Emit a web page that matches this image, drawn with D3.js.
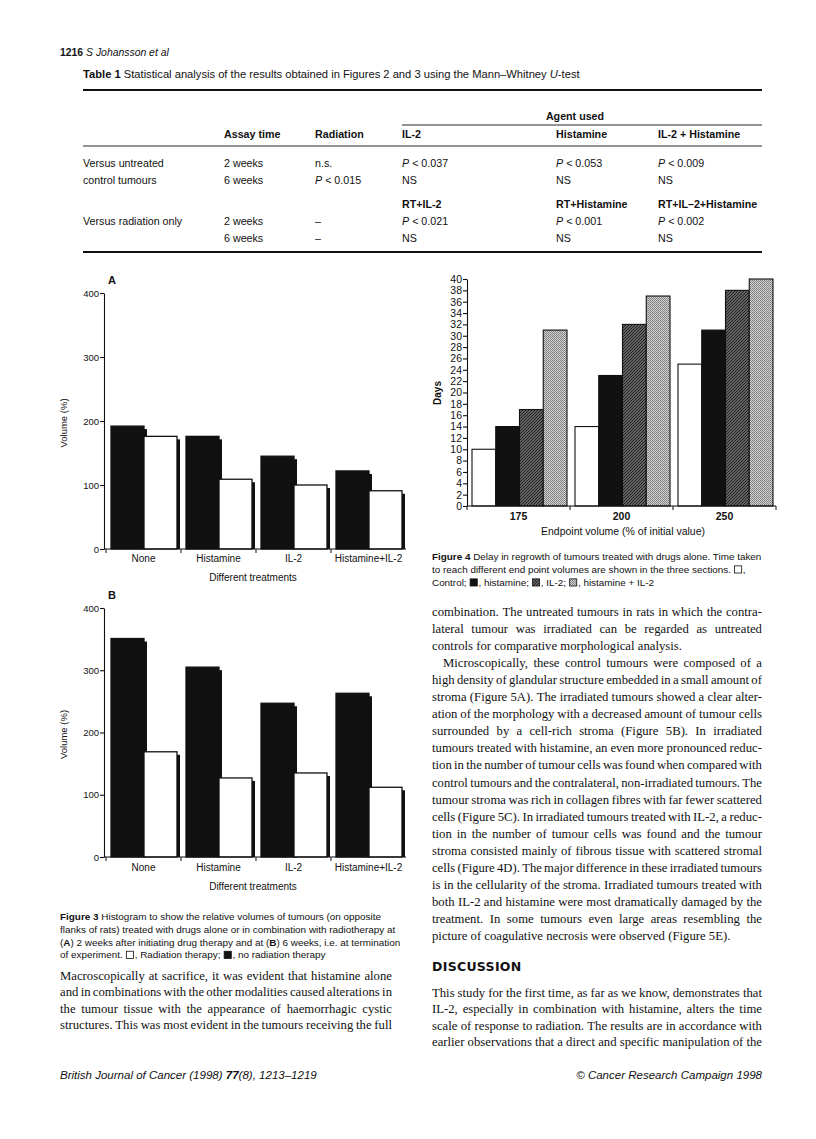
<!DOCTYPE html>
<html><head><meta charset="utf-8">
<script src="https://cdn.jsdelivr.net/npm/d3@7"></script>
<style>html,body{margin:0;padding:0;background:#fff;}svg{display:block;}</style>
</head><body>
<script>
// ---------------- DATA ----------------
const FIG3_CATEGORIES = ["None", "Histamine", "IL-2", "Histamine+IL-2"];
const FIG3_SERIES = ["No radiation therapy", "Radiation therapy"];
const FIG3A_NO_RT = [192, 176, 145, 122];
const FIG3A_RT = [176, 109, 100, 91];
const FIG3B_NO_RT = [351, 305, 247, 263];
const FIG3B_RT = [169, 127, 135, 112];
const FIG3_YTICKS = [0, 100, 200, 300, 400];

const FIG4_CATEGORIES = ["175", "200", "250"];
const FIG4_SERIES = ["Control", "Histamine", "IL-2", "Histamine + IL-2"];
const FIG4_CONTROL = [10, 14, 25];
const FIG4_HISTAMINE = [14, 23, 31];
const FIG4_IL2 = [17, 32, 38];
const FIG4_BOTH = [31, 37, 40];
const FIG4_YTICKS = [0, 2, 4, 6, 8, 10, 12, 14, 16, 18, 20, 22, 24, 26, 28, 30, 32, 34, 36, 38, 40];

const TABLE_COLS = ["", "Assay time", "Radiation", "IL-2", "Histamine", "IL-2 + Histamine"];
const TABLE_ROWS_1 = [
  ["Versus untreated", "2 weeks", "n.s.", "P < 0.037", "P < 0.053", "P < 0.009"],
  ["control tumours", "6 weeks", "P < 0.015", "NS", "NS", "NS"]
];
const TABLE_SUBHEAD_2 = ["", "", "", "RT+IL-2", "RT+Histamine", "RT+IL\u20132+Histamine"];
const TABLE_ROWS_2 = [
  ["Versus radiation only", "2 weeks", "\u2013", "P < 0.021", "P < 0.001", "P < 0.002"],
  ["", "6 weeks", "\u2013", "NS", "NS", "NS"]
];

// ---------------- SETUP ----------------
const SANS = "'Liberation Sans', Arial, Helvetica, sans-serif";
const SERIF = "'Liberation Serif', 'Times New Roman', Times, serif";
const HEAVY = "'DejaVu Sans', 'Liberation Sans', sans-serif";
const INK = "#111";
const svg = d3.select("body").append("svg").attr("width", 816).attr("height", 1139);
svg.append("rect").attr("width", 816).attr("height", 1139).attr("fill", "#fff");

const defs = svg.append("defs");
const pIL2 = defs.append("pattern").attr("id", "patIL2").attr("patternUnits", "userSpaceOnUse").attr("width", 3).attr("height", 3);
pIL2.append("rect").attr("width", 3).attr("height", 3).attr("fill", "#626262");
pIL2.append("path").attr("d", "M0,3L3,0M-1,1L1,-1M2,4L4,2").attr("stroke", "#222").attr("stroke-width", 1);
const pBoth = defs.append("pattern").attr("id", "patBoth").attr("patternUnits", "userSpaceOnUse").attr("width", 2).attr("height", 2);
pBoth.append("rect").attr("width", 2).attr("height", 2).attr("fill", "#d0d0d0");
pBoth.append("rect").attr("width", 1).attr("height", 1).attr("fill", "#7c7c7c");
pBoth.append("rect").attr("x", 1).attr("y", 1).attr("width", 1).attr("height", 1).attr("fill", "#8c8c8c");
const FIG4_FILLS = ["#fff", INK, "url(#patIL2)", "url(#patBoth)"];

const meas = svg.append("text").attr("x", 10).attr("y", 10).attr("fill", "none").attr("visibility", "hidden");
function tw(t, o) {
  meas.attr("font-size", o.size).attr("font-family", o.fam)
    .attr("font-weight", o.b ? "bold" : "normal").attr("font-style", o.i ? "italic" : "normal").text(t);
  return meas.node().getComputedTextLength();
}
function segW(t, o) { if (!t) return 0; return tw("x" + t + "x", o) - tw("xx", o); }

function richWidth(segs, base) {
  let w = 0;
  segs.forEach(s => { if (s.sq) w += base.size * 0.72 + 2; else w += segW(s.t, Object.assign({}, base, s)); });
  return w;
}
function richLine(x, y, segs, base, anchorEnd) {
  if (anchorEnd) x = x - richWidth(segs, base);
  const t = svg.append("text").attr("y", y).attr("font-size", base.size).attr("font-family", base.fam).attr("fill", INK)
    .attr("font-weight", base.b ? "bold" : null).attr("font-style", base.i ? "italic" : null);
  let cx = x;
  segs.forEach(s => {
    const o = Object.assign({}, base, s);
    if (s.sq) {
      const sz = base.size * 0.72;
      svg.append("rect").attr("x", cx + 0.8).attr("y", y - sz).attr("width", sz).attr("height", sz)
        .attr("fill", s.sq).attr("stroke", INK).attr("stroke-width", 0.8);
      cx += sz + 2; return;
    }
    const lead = s.t.length - s.t.replace(/^\s+/, "").length;
    const leadW = lead ? segW(s.t.slice(0, lead), o) : 0;
    t.append("tspan").attr("x", cx + leadW)
      .attr("font-weight", s.b ? "bold" : (base.b ? "bold" : "normal"))
      .attr("font-style", s.i ? "italic" : (base.i ? "italic" : "normal"))
      .text(s.t.trim());
    cx += segW(s.t, o);
  });
}
function fitSize(segs, base, target) { return base.size * target / richWidth(segs, base); }

// justified line, with horizontal condensing when needed
function justLine(x, y, width, text, o, justify, indent, g) {
  const words = text.split(" ");
  const ws = words.map(w => segW(w, o));
  const sum = d3.sum(ws);
  const sp = segW(" ", o);
  const avail = width - indent;
  let fl = g;
  if (justify && words.length > 1) {
    const need = sum + (words.length - 1) * sp * 0.72;
    if (need * fl > avail) fl = avail / need;
  }
  const localW = avail / fl;
  const gap = (justify && words.length > 1) ? (localW - sum) / (words.length - 1) : sp;
  const t = svg.append("text").attr("transform", `translate(${x + indent},${y}) scale(${fl},1)`)
    .attr("font-size", o.size).attr("font-family", o.fam).attr("fill", INK);
  let cx = 0;
  words.forEach((w, i) => { t.append("tspan").attr("x", cx).attr("y", 0).text(w); cx += ws[i] + gap; });
}

// ---------------- HEADER ----------------
const headSegs = [{ t: "1216", b: true }, { t: "  S Johansson et al", i: true }];
richLine(60, 56, headSegs, { size: fitSize(headSegs, { size: 12, fam: SANS }, 109), fam: SANS });

// ---------------- TABLE ----------------
const capSegs = [{ t: "Table 1", b: true }, { t: "   Statistical analysis of the results obtained in Figures 2 and 3 using the Mann\u2013Whitney " }, { t: "U", i: true }, { t: "-test" }];
const capSize = fitSize(capSegs, { size: 10, fam: SANS }, 497);
richLine(83, 78, capSegs, { size: capSize, fam: SANS });

const TB = { size: 10.7, fam: SANS };
const colX = [83, 224, 315, 402, 556, 658];
const tLeft = 83, tRight = 762;
svg.append("line").attr("x1", tLeft).attr("x2", tRight).attr("y1", 90).attr("y2", 90).attr("stroke", INK).attr("stroke-width", 2);
const agentW = segW("Agent used", Object.assign({ b: true }, TB));
richLine(575 - agentW / 2, 120, [{ t: "Agent used", b: true }], TB);
svg.append("line").attr("x1", colX[3]).attr("x2", tRight).attr("y1", 125).attr("y2", 125).attr("stroke", INK).attr("stroke-width", 0.9);
TABLE_COLS.forEach((c, i) => { if (c) richLine(colX[i], 138, [{ t: c, b: true }], TB); });
svg.append("line").attr("x1", tLeft).attr("x2", tRight).attr("y1", 146).attr("y2", 146).attr("stroke", INK).attr("stroke-width", 0.9);
function cellSegs(v) {
  if (v.startsWith("P ")) return [{ t: "P", i: true }, { t: v.slice(1) }];
  return [{ t: v }];
}
function tableRow(row, y) { row.forEach((v, i) => { if (v) richLine(colX[i], y, cellSegs(v), TB); }); }
tableRow(TABLE_ROWS_1[0], 167);
tableRow(TABLE_ROWS_1[1], 184);
TABLE_SUBHEAD_2.forEach((c, i) => { if (c) richLine(colX[i], 208, [{ t: c, b: true }], TB); });
tableRow(TABLE_ROWS_2[0], 225);
tableRow(TABLE_ROWS_2[1], 242);
svg.append("line").attr("x1", tLeft).attr("x2", tRight).attr("y1", 252).attr("y2", 252).attr("stroke", INK).attr("stroke-width", 2);

// ---------------- FIGURE 3 ----------------
function fig3(cfg) {
  const g = svg.append("g");
  const x = d3.scaleBand().domain(FIG3_CATEGORIES).range([106, 406]);
  const y = d3.scaleLinear().domain([0, 400]).range([cfg.y0, cfg.y400]);
  const inner = d3.scaleBand().domain(FIG3_SERIES).range([5, 71]);
  const bw = inner.bandwidth();
  const rows = [];
  FIG3_CATEGORIES.forEach((c, i) => {
    rows.push({ c, s: FIG3_SERIES[0], v: cfg.noRT[i] });
    rows.push({ c, s: FIG3_SERIES[1], v: cfg.rt[i] });
  });
  const bars = g.selectAll("g.bar").data(rows).join("g").attr("class", "bar");
  bars.append("rect").attr("x", d => x(d.c) + inner(d.s) + bw).attr("y", d => y(d.v) + 3)
    .attr("width", 3).attr("height", d => y(0) - y(d.v) - 3).attr("fill", INK);
  bars.append("rect").attr("x", d => x(d.c) + inner(d.s)).attr("y", d => y(d.v))
    .attr("width", bw).attr("height", d => y(0) - y(d.v))
    .attr("fill", d => d.s === FIG3_SERIES[0] ? INK : "#fff").attr("stroke", INK).attr("stroke-width", 1.3);
  const ya = g.append("g").attr("transform", "translate(104,0)")
    .call(d3.axisLeft(y).tickValues(FIG3_YTICKS).tickSize(4).tickSizeOuter(0).tickPadding(1).tickFormat(d3.format("d")));
  ya.selectAll("path,line").attr("stroke", INK).attr("stroke-width", 1.1);
  ya.selectAll("text").attr("font-family", SANS).attr("font-size", 9.5).attr("fill", INK);
  const xa = g.append("g").attr("transform", `translate(0,${cfg.y0})`)
    .call(d3.axisBottom(x).tickSize(0).tickPadding(cfg.pad));
  xa.select(".domain").attr("d", `M104,0H406`).attr("stroke", INK).attr("stroke-width", 1.1);
  xa.selectAll("text").attr("font-family", SANS).attr("font-size", 10).attr("fill", INK);
  const bounds = FIG3_CATEGORIES.map(c => x(c));
  g.selectAll("line.xt").data(bounds).join("line").attr("class", "xt")
    .attr("x1", d => d).attr("x2", d => d).attr("y1", cfg.y0).attr("y2", cfg.y0 + 4).attr("stroke", INK).attr("stroke-width", 1);
  g.append("text").attr("x", 108).attr("y", cfg.y400 - 9).attr("font-family", SANS).attr("font-weight", "bold")
    .attr("font-size", 11).attr("fill", INK).text(cfg.letter);
  g.append("text").attr("transform", `translate(67,${(cfg.y0 + cfg.y400) / 2 + 2}) rotate(-90)`)
    .attr("text-anchor", "middle").attr("font-family", SANS).attr("font-size", 9.5).attr("fill", INK).text("Volume (%)");
  g.append("text").attr("x", 253).attr("y", cfg.y0 + cfg.tgap).attr("text-anchor", "middle")
    .attr("font-family", SANS).attr("font-size", 10).attr("fill", INK).text("Different treatments");
}
fig3({ letter: "A", y0: 549, y400: 293, noRT: FIG3A_NO_RT, rt: FIG3A_RT, pad: 6, tgap: 32 });
fig3({ letter: "B", y0: 857, y400: 608, noRT: FIG3B_NO_RT, rt: FIG3B_RT, pad: 7, tgap: 33 });

// ---------------- FIGURE 4 ----------------
(function () {
  const g = svg.append("g");
  const x = d3.scaleBand().domain(FIG4_CATEGORIES).range([467, 776]);
  const y = d3.scaleLinear().domain([0, 40]).range([506, 279]);
  const inner = d3.scaleBand().domain(FIG4_SERIES).range([5, 100]);
  const series = [FIG4_CONTROL, FIG4_HISTAMINE, FIG4_IL2, FIG4_BOTH];
  const rows = [];
  FIG4_CATEGORIES.forEach((c, i) => series.forEach((s, k) => rows.push({ c, s: FIG4_SERIES[k], k, v: s[i] })));
  g.selectAll("rect.b").data(rows).join("rect").attr("class", "b")
    .attr("x", d => x(d.c) + inner(d.s)).attr("y", d => y(d.v))
    .attr("width", inner.bandwidth()).attr("height", d => y(0) - y(d.v))
    .attr("fill", d => FIG4_FILLS[d.k]).attr("stroke", INK).attr("stroke-width", 1.1);
  const ya = g.append("g").attr("transform", "translate(467,0)")
    .call(d3.axisLeft(y).tickValues(FIG4_YTICKS).tickSize(4).tickSizeOuter(0).tickPadding(1).tickFormat(d3.format("d")));
  ya.selectAll("path,line").attr("stroke", INK).attr("stroke-width", 1.1);
  ya.selectAll("text").attr("font-family", SANS).attr("font-size", 10.5).attr("fill", INK);
  const xa = g.append("g").attr("transform", "translate(0,506)").call(d3.axisBottom(x).tickSize(0).tickPadding(7));
  xa.select(".domain").attr("d", "M467,0H776").attr("stroke", INK).attr("stroke-width", 1.1);
  xa.selectAll("text").attr("font-family", SANS).attr("font-weight", "bold").attr("font-size", 10.5).attr("fill", INK);
  const bounds = FIG4_CATEGORIES.map(c => x(c)).concat([x.range()[1]]);
  g.selectAll("line.xt").data(bounds).join("line").attr("class", "xt")
    .attr("x1", d => d).attr("x2", d => d).attr("y1", 506).attr("y2", 510).attr("stroke", INK).attr("stroke-width", 1);
  g.append("text").attr("transform", "translate(441,393) rotate(-90)").attr("text-anchor", "middle")
    .attr("font-family", SANS).attr("font-weight", "bold").attr("font-size", 10).attr("fill", INK).text("Days");
  g.append("text").attr("x", 623).attr("y", 535).attr("text-anchor", "middle")
    .attr("font-family", SANS).attr("font-size", 10.5).attr("fill", INK).text("Endpoint volume (% of initial value)");
})();

// ---------------- CAPTIONS ----------------
const f4c = [
  [{ t: "Figure 4", b: true }, { t: "   Delay in regrowth of tumours treated with drugs alone. Time taken" }],
  [{ t: "to reach different end point volumes are shown in the three sections. " }, { sq: "#fff" }, { t: "," }],
  [{ t: "Control; " }, { sq: INK }, { t: ", histamine; " }, { sq: "url(#patIL2)" }, { t: ", IL-2; " }, { sq: "url(#patBoth)" }, { t: ", histamine + IL-2" }]
];
const f4Size = fitSize(f4c[0], { size: 10, fam: SANS }, 330);
f4c.forEach((l, i) => richLine(432, 560 + i * 13, l, { size: f4Size, fam: SANS }));

const f3c = [
  [{ t: "Figure 3", b: true }, { t: "   Histogram to show the relative volumes of tumours (on opposite" }],
  [{ t: "flanks of rats) treated with drugs alone or in combination with radiotherapy at" }],
  [{ t: "(" }, { t: "A", b: true }, { t: ") 2 weeks after initiating drug therapy and at (" }, { t: "B", b: true }, { t: ") 6 weeks, i.e. at termination" }],
  [{ t: "of experiment. " }, { sq: "#fff" }, { t: ", Radiation therapy; " }, { sq: INK }, { t: ", no radiation therapy" }]
];
const f3Size = fitSize(f3c[1], { size: 10, fam: SANS }, 336);
f3c.forEach((l, i) => richLine(60, 920 + i * 12.8, l, { size: f3Size, fam: SANS }));

// ---------------- BODY TEXT ----------------
const rightLines = [
  ["combination. The untreated tumours in rats in which the contra-", 1, 0],
  ["lateral tumour was irradiated can be regarded as untreated", 1, 0],
  ["controls for comparative morphological analysis.", 0, 0],
  ["Microscopically, these control tumours were composed of a", 1, 11],
  ["high density of glandular structure embedded in a small amount of", 1, 0],
  ["stroma (Figure 5A). The irradiated tumours showed a clear alter-", 1, 0],
  ["ation of the morphology with a decreased amount of tumour cells", 1, 0],
  ["surrounded by a cell-rich stroma (Figure 5B). In irradiated", 1, 0],
  ["tumours treated with histamine, an even more pronounced reduc-", 1, 0],
  ["tion in the number of tumour cells was found when compared with", 1, 0],
  ["control tumours and the contralateral, non-irradiated tumours. The", 1, 0],
  ["tumour stroma was rich in collagen fibres with far fewer scattered", 1, 0],
  ["cells (Figure 5C). In irradiated tumours treated with IL-2, a reduc-", 1, 0],
  ["tion in the number of tumour cells was found and the tumour", 1, 0],
  ["stroma consisted mainly of fibrous tissue with scattered stromal", 1, 0],
  ["cells (Figure 4D). The major difference in these irradiated tumours", 1, 0],
  ["is in the cellularity of the stroma. Irradiated tumours treated with", 1, 0],
  ["both IL-2 and histamine were most dramatically damaged by the", 1, 0],
  ["treatment. In some tumours even large areas resembling the", 1, 0],
  ["picture of coagulative necrosis were observed (Figure 5E).", 0, 0]
];
const discLines = [
  ["This study for the first time, as far as we know, demonstrates that", 1, 0],
  ["IL-2, especially in combination with histamine, alters the time", 1, 0],
  ["scale of response to radiation. The results are in accordance with", 1, 0],
  ["earlier observations that a direct and specific manipulation of the", 1, 0]
];
const leftLines = [
  ["Macroscopically at sacrifice, it was evident that histamine alone", 1, 0],
  ["and in combinations with the other modalities caused alterations in", 1, 0],
  ["the tumour tissue with the appearance of haemorrhagic cystic", 1, 0],
  ["structures. This was most evident in the tumours receiving the full", 1, 0]
];
(function () {
  const BODY = { size: 12.9, fam: SERIF };
  const sp = segW(" ", BODY);
  const ratios = [];
  const collect = (arr, W) => arr.forEach(([t, j, ind]) => {
    if (!j) return;
    const words = t.split(" ");
    ratios.push((d3.sum(words, s => segW(s, BODY)) + (words.length - 1) * sp) / (W - ind));
  });
  collect(rightLines, 330); collect(discLines, 330); collect(leftLines, 332);
  const G = Math.min(1, 1 / d3.median(ratios));
  rightLines.forEach(([t, j, ind], i) => justLine(432, 616 + i * 17.05, 330, t, BODY, j, ind, G));
  svg.append("text").attr("x", 432).attr("y", 971).attr("font-family", HEAVY).attr("font-weight", "bold")
    .attr("font-size", 12.5).attr("fill", INK).attr("letter-spacing", 0.3).text("DISCUSSION");
  discLines.forEach(([t, j, ind], i) => justLine(432, 997 + i * 16.4, 330, t, BODY, j, ind, G));
  leftLines.forEach(([t, j, ind], i) => justLine(60, 980 + i * 16.3, 332, t, BODY, j, ind, G));
})();

// ---------------- FOOTER ----------------
const footL = [{ t: "British Journal of Cancer (1998) " }, { t: "77", b: true }, { t: "(8), 1213\u20131219" }];
const footSize = fitSize(footL, { size: 11, fam: SANS, i: true }, 257);
richLine(60, 1079, footL, { size: footSize, fam: SANS, i: true });
richLine(762, 1079, [{ t: "\u00a9 Cancer Research Campaign 1998" }], { size: footSize, fam: SANS, i: true }, true);

meas.remove();
</script>
</body></html>
